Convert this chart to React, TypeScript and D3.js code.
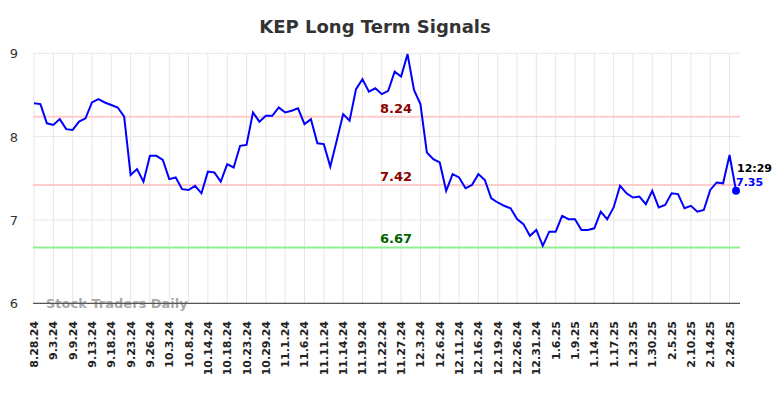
import React from 'react';
import * as d3 from 'd3';

const title = 'KEP Long Term Signals';

// closing prices, one per sample (tick labels every 3rd sample)
const prices: number[] = [
  8.40, 8.39, 8.16, 8.14, 8.21, 8.09, 8.08, 8.18, 8.22, 8.41,
  8.45, 8.41, 8.38, 8.35, 8.24, 7.54, 7.61, 7.46, 7.77, 7.77,
  7.72, 7.49, 7.51, 7.37, 7.36, 7.41, 7.32, 7.58, 7.57, 7.46,
  7.67, 7.63, 7.89, 7.90, 8.29, 8.18, 8.25, 8.25, 8.35, 8.29,
  8.31, 8.34, 8.15, 8.21, 7.92, 7.91, 7.64, 7.95, 8.27, 8.19,
  8.57, 8.69, 8.54, 8.58, 8.51, 8.55, 8.78, 8.72, 8.99, 8.56,
  8.39, 7.81, 7.73, 7.69, 7.35, 7.55, 7.51, 7.38, 7.42, 7.55,
  7.48, 7.26, 7.21, 7.17, 7.14, 7.01, 6.95, 6.81, 6.88, 6.69,
  6.86, 6.86, 7.05, 7.01, 7.01, 6.88, 6.88, 6.90, 7.10, 7.01,
  7.15, 7.41, 7.32, 7.27, 7.28, 7.19, 7.35, 7.15, 7.18, 7.32,
  7.31, 7.14, 7.17, 7.10, 7.12, 7.36, 7.45, 7.44, 7.78, 7.35,
];

const dateLabels: string[] = [
  '8.28.24', '9.3.24', '9.9.24', '9.13.24', '9.18.24', '9.23.24', '9.26.24',
  '10.3.24', '10.8.24', '10.14.24', '10.18.24', '10.23.24', '10.29.24',
  '11.1.24', '11.6.24', '11.11.24', '11.14.24', '11.19.24', '11.22.24',
  '11.27.24', '12.3.24', '12.6.24', '12.11.24', '12.16.24', '12.19.24',
  '12.26.24', '12.31.24', '1.6.25', '1.9.25', '1.14.25', '1.17.25',
  '1.23.25', '1.30.25', '2.5.25', '2.10.25', '2.14.25', '2.24.25',
];
const labelStep = 3;

const yTicks = [6, 7, 8, 9];

const signalLevels = [8.24, 7.42];
const supportLevel = 6.67;
const lastTime = '12:29';

const W = 784;
const H = 398;
const plot = { left: 33, right: 740, top: 53.3, bottom: 303.3 };

export default function App() {
  const x = d3.scaleLinear().domain([0, prices.length - 1]).range([34, 736]);
  const y = d3.scaleLinear().domain([6, 9]).range([plot.bottom, plot.top]);

  const line = d3
    .line<number>()
    .x((_, i) => x(i))
    .y(d => y(d));

  const lastIdx = prices.length - 1;
  const last = prices[lastIdx];
  const labelX = (x(0) + x(lastIdx)) / 2 + 11;

  return (
    <div style={{ position: 'absolute', left: 0, top: 0 }}>
      <svg width={W} height={H} style={{ display: 'block', fontFamily: 'DejaVu Sans' }}>
        <rect width={W} height={H} fill="#fff" />
        <text x={375} y={33} textAnchor="middle" fontSize={18} fontWeight="bold" fill="#333">
          {title}
        </text>

        {/* grid */}
        {yTicks.map(t => (
          <line key={'hy' + t} x1={plot.left} x2={plot.right} y1={y(t)} y2={y(t)} stroke="#e6e6e6" />
        ))}
        {dateLabels.map((_, k) => (
          <line
            key={'vx' + k}
            x1={x(k * labelStep)}
            x2={x(k * labelStep)}
            y1={plot.top}
            y2={plot.bottom}
            stroke="#e6e6e6"
          />
        ))}

        {yTicks.map(t => (
          <text key={'yl' + t} x={18} y={y(t) + 5} textAnchor="end" fontSize={13} fill="#333">
            {t}
          </text>
        ))}

        <text x={46} y={308} fontSize={13} fontWeight="bold" fill="#999" fillOpacity={0.85}>
          Stock Traders Daily
        </text>

        <line x1={plot.left} x2={plot.right} y1={plot.bottom} y2={plot.bottom} stroke="#555" strokeWidth={1.2} />

        {dateLabels.map((d, k) => (
          <text
            key={'xl' + d}
            transform={`translate(${x(k * labelStep) + 4},321) rotate(-90)`}
            textAnchor="end"
            fontSize={11}
            fontWeight="bold"
            fill="#222"
          >
            {d}
          </text>
        ))}

        {signalLevels.map(v => (
          <g key={'sig' + v}>
            <line x1={plot.left} x2={plot.right} y1={y(v)} y2={y(v)} stroke="#ffcccc" strokeWidth={2} />
            <text x={labelX} y={y(v) - 4} textAnchor="middle" fontSize={13} fontWeight="bold" fill="#8b0000">
              {v.toFixed(2)}
            </text>
          </g>
        ))}
        <line x1={plot.left} x2={plot.right} y1={y(supportLevel)} y2={y(supportLevel)} stroke="#90ee90" strokeWidth={2} />
        <text x={labelX} y={y(supportLevel) - 4} textAnchor="middle" fontSize={13} fontWeight="bold" fill="#006400">
          {supportLevel.toFixed(2)}
        </text>

        <path d={line(prices) || ''} fill="none" stroke="#0000ff" strokeWidth={2} />
        <circle cx={x(lastIdx)} cy={y(last)} r={4} fill="#0000ff" />
        <text x={737} y={172} fontSize={11} fontWeight="bold" fill="#000">
          {lastTime}
        </text>
        <text x={736} y={186} fontSize={11} fontWeight="bold" fill="#0000ff">
          {last.toFixed(2)}
        </text>
      </svg>
    </div>
  );
}
